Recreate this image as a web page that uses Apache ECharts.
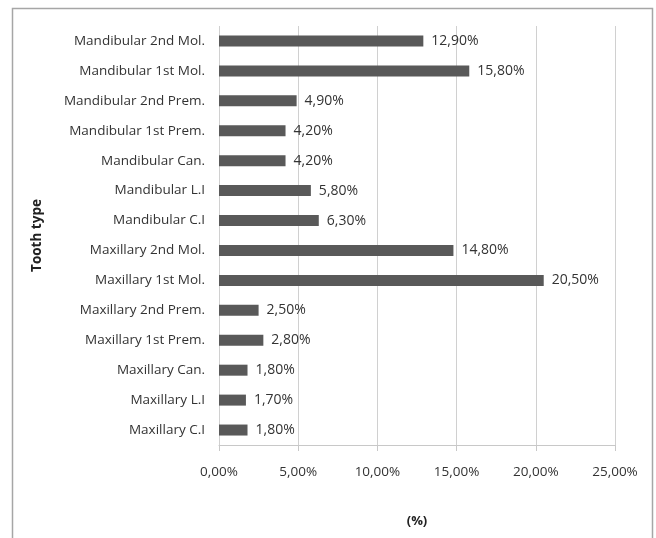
<!DOCTYPE html>
<html>
<head>
<meta charset="utf-8">
<script src="https://cdn.jsdelivr.net/npm/echarts@6/dist/echarts.min.js"></script>
<style>html,body{margin:0;padding:0;background:#fff;}#c{width:656px;height:538px;}</style>
</head>
<body>
<div id="c"></div>
<script>
var categories = ["Maxillary C.I","Maxillary L.I","Maxillary Can.","Maxillary 1st Prem.","Maxillary 2nd Prem.","Maxillary 1st Mol.","Maxillary 2nd Mol.","Mandibular C.I","Mandibular L.I","Mandibular Can.","Mandibular 1st Prem.","Mandibular 2nd Prem.","Mandibular 1st Mol.","Mandibular 2nd Mol."];
var values = [1.8,1.7,1.8,2.8,2.5,20.5,14.8,6.3,5.8,4.2,4.2,4.9,15.8,12.9];
var xTicks = [0,5,10,15,20,25];
function pct(v){return v.toFixed(2).replace('.',',')+'%';}
var FONT = '"Open Sans", "Noto Sans", sans-serif';
var chart = echarts.init(document.getElementById('c'), null, {renderer:'canvas'});
chart.setOption({
  animation:false,
  backgroundColor:'#ffffff',
  graphic:[{type:'rect',shape:{x:12.5,y:8.5,width:640,height:560},style:{fill:'none',stroke:'#a6a6a6',lineWidth:1.5},silent:true}],
  grid:{left:219,right:41,top:26,bottom:93,containLabel:false},
  xAxis:{type:'value',min:xTicks[0],max:xTicks[xTicks.length-1],interval:5,
    name:'(%)',nameLocation:'middle',nameGap:70,
    nameTextStyle:{fontFamily:FONT,fontSize:13,fontWeight:'bold',color:'#222'},
    axisLine:{show:true,lineStyle:{color:'#c8c8c8',width:1}},
    axisTick:{show:true,length:6,lineStyle:{color:'#c8c8c8'}},
    axisLabel:{formatter:function(v){return pct(v);},margin:20,fontFamily:FONT,fontSize:13.5,color:'#333'},
    splitLine:{show:true,lineStyle:{color:'#d0d0d0',width:1}}
  },
  yAxis:{type:'category',data:categories,
    name:'Tooth type',nameLocation:'middle',nameGap:175,nameRotate:90,
    nameTextStyle:{fontFamily:FONT,fontSize:13.5,fontWeight:'bold',color:'#222'},
    axisLine:{show:false},axisTick:{show:false},
    axisLabel:{margin:14,fontFamily:FONT,fontSize:13.5,color:'#333'}
  },
  series:[{type:'bar',data:values,barWidth:11,
    itemStyle:{color:'#595959'},
    label:{show:true,position:'right',distance:8,formatter:function(p){return pct(p.value);},fontFamily:FONT,fontSize:14,color:'#333'}
  }]
});
</script>
</body>
</html>
